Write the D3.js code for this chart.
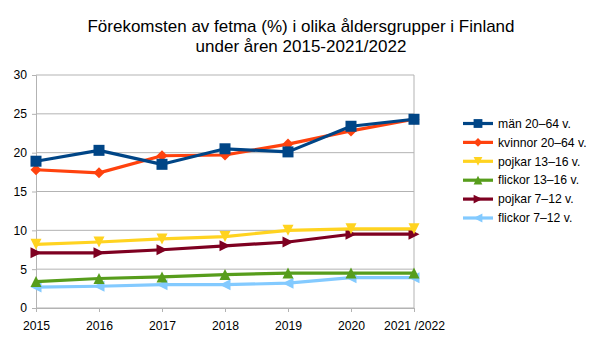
<!DOCTYPE html>
<html>
<head>
<meta charset="utf-8">
<script src="https://cdn.jsdelivr.net/npm/d3@7"></script>
<style>
  body { margin: 0; background: #fff; }
  text { font-family: "Liberation Sans", Arial, sans-serif; fill: #000; }
</style>
</head>
<body>
<svg id="chart"></svg>
<script>
// categories and values
var years = ["2015", "2016", "2017", "2018", "2019", "2020", "2021 /2022"];
var yTicks = [0, 5, 10, 15, 20, 25, 30];

var man2064     = [18.9, 20.3, 18.5, 20.5, 20.1, 23.4, 24.3];
var kvinnor2064 = [17.8, 17.4, 19.6, 19.7, 21.1, 22.8, 24.3];
var pojkar1316  = [8.2, 8.5, 8.9, 9.2, 10.0, 10.2, 10.2];
var flickor1316 = [3.4, 3.8, 4.0, 4.3, 4.5, 4.5, 4.5];
var pojkar712   = [7.1, 7.1, 7.5, 8.0, 8.5, 9.5, 9.5];
var flickor712  = [2.7, 2.8, 3.0, 3.0, 3.2, 3.9, 3.9];

var series = [
  { name: "män 20–64 v.",      values: man2064,     color: "#004586", symbol: "square" },
  { name: "kvinnor 20–64 v.",  values: kvinnor2064, color: "#ff420e", symbol: "diamond" },
  { name: "pojkar 13–16 v.",   values: pojkar1316,  color: "#ffd320", symbol: "down" },
  { name: "flickor 13–16 v.",  values: flickor1316, color: "#579d1c", symbol: "up" },
  { name: "pojkar 7–12 v.",    values: pojkar712,   color: "#7e0021", symbol: "right" },
  { name: "flickor 7–12 v.",   values: flickor712,  color: "#83caff", symbol: "left" }
];

var svgWidth = 605, svgHeight = 340;
var margin = { top: 75, right: 191, bottom: 32, left: 36 };
var width = svgWidth - margin.left - margin.right;
var height = svgHeight - margin.top - margin.bottom;

var svg = d3.select("#chart")
  .attr("width", svgWidth)
  .attr("height", svgHeight);

var chart = svg.append("g")
  .attr("transform", `translate(${margin.left},${margin.top})`);

var x = d3.scalePoint().domain(years).range([0, width]);
var y = d3.scaleLinear().domain([0, 30]).range([height, 0]);

// gridlines
chart.selectAll(".grid")
  .data(yTicks)
  .enter()
  .append("line")
  .attr("x1", 0).attr("x2", width)
  .attr("y1", d => y(d)).attr("y2", d => y(d))
  .attr("stroke", "#b3b3b3");

// right border of the plot area
chart.append("line")
  .attr("x1", width).attr("x2", width)
  .attr("y1", 0).attr("y2", height)
  .attr("stroke", "#b3b3b3");

var yAxis = chart.append("g")
  .call(d3.axisLeft(y).tickValues(yTicks).tickSize(4).tickPadding(5));
var xAxis = chart.append("g")
  .attr("transform", `translate(0,${height})`)
  .call(d3.axisBottom(x).tickSize(4).tickPadding(9));

[yAxis, xAxis].forEach(function(ax) {
  ax.select(".domain").attr("stroke", "#b3b3b3");
  ax.selectAll(".tick line").attr("stroke", "#b3b3b3");
  ax.selectAll("text").attr("font-size", 12.2).attr("fill", "#000")
    .attr("font-family", "Liberation Sans, Arial, sans-serif");
});

// marker shapes
function marker(sel, symbol, color) {
  var s = 5.5;
  var pts;
  if (symbol === "square") {
    sel.append("rect").attr("x", -s).attr("y", -s).attr("width", 2 * s).attr("height", 2 * s).attr("fill", color);
    return;
  }
  if (symbol === "diamond") pts = [[0, -s], [s, 0], [0, s], [-s, 0]];
  if (symbol === "down") pts = [[-s, -s], [s, -s], [0, s]];
  if (symbol === "up") pts = [[-s, s], [s, s], [0, -s]];
  if (symbol === "right") pts = [[-s, -s], [-s, s], [s, 0]];
  if (symbol === "left") pts = [[s, -s], [s, s], [-s, 0]];
  sel.append("polygon").attr("points", pts.map(p => p.join(",")).join(" ")).attr("fill", color);
}

var line = d3.line()
  .x((d, i) => x(years[i]))
  .y(d => y(d));

// draw from bottom series up so the adult lines sit on top
series.slice().reverse().forEach(function(s) {
  var g = chart.append("g");
  g.append("path")
    .attr("d", line(s.values))
    .attr("fill", "none")
    .attr("stroke", s.color)
    .attr("stroke-width", 3.2)
    .attr("stroke-linejoin", "round");
  s.values.forEach(function(v, i) {
    var m = g.append("g").attr("transform", `translate(${x(years[i])},${y(v)})`);
    marker(m, s.symbol, s.color);
  });
});

// legend
var legend = svg.append("g").attr("transform", "translate(463,123.5)");
series.forEach(function(s, i) {
  var row = legend.append("g").attr("transform", `translate(0,${i * 18.9})`);
  row.append("line").attr("x1", 0).attr("x2", 30).attr("y1", 0).attr("y2", 0)
    .attr("stroke", s.color).attr("stroke-width", 3.2);
  var m = row.append("g").attr("transform", "translate(15,0) scale(0.8)");
  marker(m, s.symbol, s.color);
  row.append("text").attr("x", 35).attr("y", 0).attr("dy", "0.35em")
    .attr("font-size", 12.2).text(s.name);
});

// title
var title = svg.append("text")
  .attr("text-anchor", "middle")
  .attr("font-size", 17);
title.append("tspan").attr("x", 301).attr("y", 32).text("Förekomsten av fetma (%) i olika åldersgrupper i Finland");
title.append("tspan").attr("x", 301).attr("y", 52).text("under åren 2015-2021/2022");
</script>
</body>
</html>
